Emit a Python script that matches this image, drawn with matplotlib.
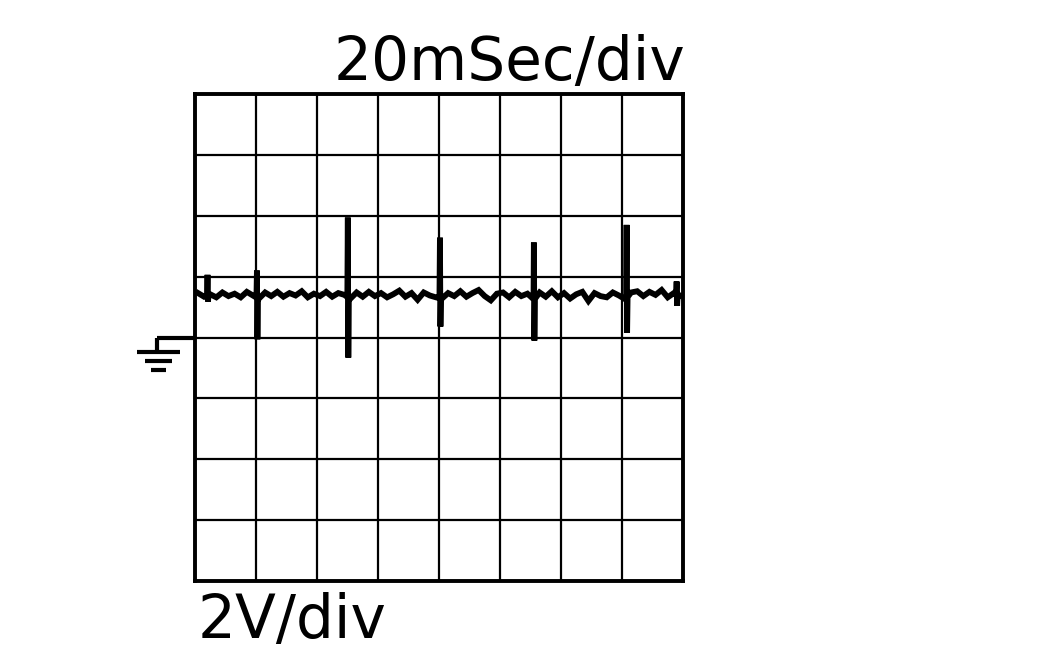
import matplotlib.pyplot as plt
import numpy as np

# Scope settings (labels)
time_label = '20mSec/div'
volt_label = '2V/div'

# Trace baseline, sampled every 0.1 div starting at 0.05 div (volts in divisions)
base_x = [0.05 + 0.1 * i for i in range(80)]
base_y = [0.73, 0.67, 0.71, 0.66, 0.74, 0.68, 0.72, 0.66, 0.75, 0.69,
          0.64, 0.74, 0.68, 0.75, 0.67, 0.73, 0.69, 0.76, 0.66, 0.72,
          0.68, 0.75, 0.67, 0.73, 0.70, 0.64, 0.74, 0.67, 0.75, 0.68,
          0.73, 0.66, 0.71, 0.77, 0.67, 0.73, 0.62, 0.74, 0.69, 0.66,
          0.64, 0.73, 0.68, 0.76, 0.67, 0.73, 0.78, 0.68, 0.61, 0.72,
          0.74, 0.66, 0.75, 0.68, 0.72, 0.62, 0.74, 0.67, 0.76, 0.66,
          0.73, 0.64, 0.71, 0.75, 0.60, 0.73, 0.68, 0.66, 0.74, 0.69,
          0.63, 0.74, 0.76, 0.68, 0.75, 0.70, 0.78, 0.66, 0.73, 0.69]

# Switching spikes: position, peak and trough (divisions)
spike_x = [0.21, 1.02, 2.51, 4.02, 5.56, 7.08, 7.90]
spike_top = [1.03, 1.10, 1.97, 1.64, 1.56, 1.85, 0.92]
spike_bottom = [0.59, -0.03, -0.33, 0.18, -0.05, 0.08, 0.52]

# merge baseline and spikes into one trace
pts = list(zip(base_x, base_y))
for sx, top, bot in zip(spike_x, spike_top, spike_bottom):
    lvl = np.interp(sx, base_x, base_y)
    pts.append((sx - 0.012, lvl))
    pts.append((sx - 0.004, top))
    pts.append((sx + 0.004, bot))
    pts.append((sx + 0.012, lvl))
pts.sort()
tx = [p[0] for p in pts]
ty = [p[1] for p in pts]

fig = plt.figure(figsize=(10.63, 6.61), dpi=100)
ax = fig.add_axes([0.1834, 0.121, 0.4591, 0.7368])
ax.set_xlim(0, 8)
ax.set_ylim(-4, 4)
ax.set_xticks(np.arange(9))
ax.set_yticks(np.arange(-4, 5))
ax.tick_params(length=0, labelbottom=False, labelleft=False)
ax.grid(True, color='black', linewidth=1.6)
for sp in ax.spines.values():
    sp.set_linewidth(2.8)

ax.plot(tx, ty, color='black', linewidth=4.2, solid_joinstyle='miter')

# ground marker on the left
kw = dict(color='black', linewidth=3, clip_on=False, solid_capstyle='butt')
ax.plot([-0.62, 0], [0, 0], **kw)
ax.plot([-0.62, -0.62], [0, -0.23], **kw)
ax.plot([-0.95, -0.25], [-0.23, -0.23], **kw)
ax.plot([-0.82, -0.38], [-0.39, -0.39], **kw)
ax.plot([-0.72, -0.48], [-0.54, -0.54], **kw)

fig.text(685 / 1063, 1 - 80 / 661, time_label, ha='right', va='baseline',
         fontsize=43, family='DejaVu Sans')
fig.text(198 / 1063, 1 - 638 / 661, volt_label, ha='left', va='baseline',
         fontsize=43, family='DejaVu Sans')

fig.savefig('out.png', dpi=100, facecolor='white')
